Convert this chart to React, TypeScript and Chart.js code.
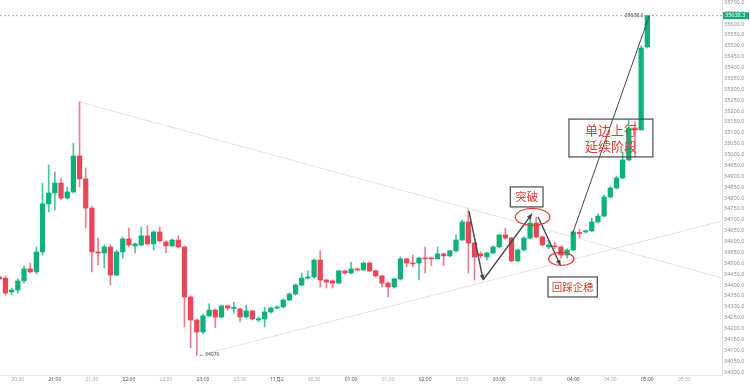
import { useEffect, useRef } from 'react';
import { Chart, registerables } from 'chart.js';

Chart.register(...registerables);

// 5-minute candles, index 0 = 20:20 (index -1 = 20:15, partly cut off at the left edge)
const firstIndex = -1;
const openPrices = [
  34437, 34432, 34368, 34377, 34419, 34474, 34460, 34552, 34773, 34823, 34869, 34800, 34828, 34993, 34888, 34754,
  34552, 34547, 34575, 34446, 34552, 34612, 34580, 34584, 34626, 34589, 34644, 34598, 34580, 34607, 34575, 34345,
  34239, 34184, 34258, 34285, 34253, 34304, 34292, 34290, 34253, 34281, 34239, 34244, 34276, 34294, 34299, 34331,
  34359, 34400, 34432, 34437, 34515, 34423, 34419, 34409, 34465, 34455, 34474, 34469, 34501, 34465, 34442, 34409,
  34391, 34428, 34520, 34501, 34501, 34524, 34524, 34520, 34543, 34534, 34557, 34607, 34690, 34593, 34543, 34529,
  34547, 34575, 34630, 34616, 34511, 34561, 34616, 34685, 34621, 34575, 34580, 34575, 34538, 34561, 34642, 34644,
  34649, 34690, 34717, 34805, 34846, 34892, 34975, 35122, 35113, 35495,
];
const highPrices = [
  34446, 34442, 34386, 34428, 34488, 34501, 34575, 34869, 34952, 34920, 34892, 34851, 35053, 35242, 34938, 34763,
  34616, 34584, 34584, 34561, 34621, 34662, 34593, 34667, 34672, 34649, 34667, 34603, 34612, 34626, 34580, 34350,
  34244, 34267, 34313, 34290, 34308, 34308, 34322, 34294, 34308, 34285, 34253, 34299, 34299, 34304, 34336, 34363,
  34405, 34455, 34465, 34520, 34557, 34428, 34423, 34469, 34469, 34506, 34478, 34506, 34506, 34469, 34446, 34414,
  34432, 34529, 34524, 34538, 34529, 34575, 34529, 34575, 34547, 34561, 34630, 34699, 34745, 34598, 34552, 34552,
  34580, 34635, 34662, 34621, 34566, 34621, 34722, 34713, 34626, 34607, 34598, 34580, 34566, 34649, 34658, 34653,
  34708, 34727, 34814, 34855, 34901, 35012, 35159, 35150, 35499, 35638.3,
];
const lowPrices = [
  34419, 34354, 34354, 34363, 34409, 34455, 34451, 34538, 34736, 34745, 34791, 34796, 34823, 34851, 34662, 34460,
  34492, 34478, 34400, 34442, 34524, 34575, 34547, 34580, 34584, 34561, 34598, 34547, 34575, 34570, 34207, 34111,
  34076, 34175, 34253, 34203, 34248, 34285, 34271, 34230, 34248, 34239, 34230, 34207, 34271, 34290, 34294, 34327,
  34354, 34396, 34428, 34432, 34391, 34386, 34386, 34405, 34451, 34451, 34465, 34469, 34460, 34437, 34391, 34345,
  34386, 34423, 34483, 34483, 34423, 34455, 34488, 34520, 34488, 34529, 34552, 34603, 34455, 34423, 34524, 34515,
  34543, 34570, 34612, 34506, 34506, 34557, 34612, 34616, 34580, 34566, 34566, 34524, 34524, 34557, 34616, 34639,
  34644, 34685, 34713, 34800, 34842, 34888, 34970, 34989, 35113, 35490,
];
const closePrices = [
  34428, 34363, 34377, 34419, 34474, 34460, 34552, 34773, 34823, 34869, 34800, 34828, 34993, 34888, 34754, 34552,
  34547, 34575, 34446, 34552, 34612, 34584, 34589, 34626, 34589, 34644, 34603, 34580, 34607, 34575, 34345, 34239,
  34184, 34258, 34285, 34253, 34304, 34294, 34297, 34253, 34281, 34244, 34245, 34276, 34294, 34299, 34331, 34359,
  34400, 34432, 34437, 34515, 34423, 34414, 34409, 34465, 34455, 34474, 34469, 34501, 34465, 34442, 34409, 34391,
  34428, 34520, 34501, 34497, 34524, 34520, 34520, 34543, 34534, 34557, 34607, 34690, 34593, 34529, 34534, 34547,
  34575, 34630, 34616, 34511, 34561, 34616, 34685, 34621, 34584, 34584, 34575, 34538, 34561, 34644, 34637, 34649,
  34690, 34717, 34805, 34846, 34892, 34975, 35122, 35113, 35490, 35638.3,
];

const xTickIndex = [2, 8, 14, 20, 26, 32, 38, 44, 50, 56, 62, 68, 74, 80, 86, 92, 98, 104, 110];
const xTickLabels = [
  '20:30', '21:00', '21:30', '22:00', '22:30', '23:00', '23:30', '11月2', '00:30', '01:00',
  '01:30', '02:00', '02:30', '03:00', '03:30', '04:00', '04:30', '05:00', '05:30',
];
const yTickValues = [
  34000, 34050, 34100, 34150, 34200, 34250, 34300, 34350, 34400, 34450, 34500, 34550, 34600, 34650, 34700,
  34750, 34800, 34850, 34900, 34950, 35000, 35050, 35100, 35150, 35200, 35250, 35300, 35350, 35400, 35450,
  35500, 35550, 35600, 35650, 35700,
];
const lastPrice = 35638.3;
const lowestPrice = 34076;
const lowestIndex = 31;
const lastIndex = 104;

// annotations in data units: [candle index, price]
const trendLines = [
  { from: [12, 35241.6], to: [116.1, 34432.4] },
  { from: [31.3, 34076], to: [116.1, 34694.4] },
];
const arrowLines = [
  { from: [75.1, 34740], to: [77.4, 34423], head: true },
  { from: [77.4, 34423], to: [85.3, 34727], head: true },
  { from: [86.3, 34713], to: [89.9, 34492], head: true },
  { from: [91.8, 34630], to: [104.3, 35637], head: false },
];
const ellipses = [
  { x1: 82.6, x2: 88.2, p1: 34752, p2: 34674 },
  { x1: 88.0, x2: 92.1, p1: 34550, p2: 34490 },
];
const noteBoxes = [
  { x1: 81.8, x2: 87.1, p1: 34851, p2: 34759, lines: ['突破'], size: 11.5 },
  { x1: 87.9, x2: 95.9, p1: 34437, p2: 34345, lines: ['回踩企稳'], size: 10.5 },
  { x1: 91.3, x2: 104.9, p1: 35163, p2: 34989, lines: ['单边上行', '延续阶段'], size: 13 },
];

const GREEN = '#10b07a';
const RED = '#e8475a';
const NOTE_RED = '#e33b33';

export default function App() {
  const ref = useRef<HTMLCanvasElement | null>(null);

  useEffect(() => {
    document.body.style.margin = '0';
    const canvas = ref.current;
    if (!canvas) return;

    const idx = openPrices.map((_, i) => firstIndex + i);
    const colors = openPrices.map((o, i) => (closePrices[i] >= o ? GREEN : RED));
    const wickColors = openPrices.map((o, i) => (closePrices[i] >= o ? 'rgba(16,176,122,0.75)' : 'rgba(232,71,90,0.7)'));

    const px = (chart: any, x: number) => chart.scales.x.getPixelForValue(x);
    const py = (chart: any, y: number) => chart.scales.y.getPixelForValue(y);

    const underlay = {
      id: 'underlay',
      beforeDatasetsDraw(chart: any) {
        const { ctx, chartArea } = chart;
        ctx.save();
        ctx.beginPath();
        ctx.rect(chartArea.left, chartArea.top, chartArea.right - chartArea.left, chartArea.bottom - chartArea.top);
        ctx.clip();
        ctx.strokeStyle = 'rgba(222,196,200,0.8)';
        ctx.lineWidth = 0.7;
        trendLines.forEach((l) => {
          ctx.beginPath();
          ctx.moveTo(px(chart, l.from[0]), py(chart, l.from[1]));
          ctx.lineTo(px(chart, l.to[0]), py(chart, l.to[1]));
          ctx.stroke();
        });
        const yl = py(chart, lastPrice);
        ctx.strokeStyle = 'rgba(38,166,140,0.8)';
        ctx.setLineDash([2, 2]);
        ctx.lineWidth = 0.8;
        ctx.beginPath();
        ctx.moveTo(chartArea.left, yl);
        ctx.lineTo(chartArea.right, yl);
        ctx.stroke();
        ctx.restore();
      },
    };

    const overlay = {
      id: 'overlay',
      afterDatasetsDraw(chart: any) {
        const { ctx } = chart;
        ctx.save();
        ctx.strokeStyle = '#474747';
        ctx.fillStyle = '#474747';
        arrowLines.forEach((a) => {
          const x1 = px(chart, a.from[0]);
          const y1 = py(chart, a.from[1]);
          const x2 = px(chart, a.to[0]);
          const y2 = py(chart, a.to[1]);
          ctx.lineWidth = a.head ? 1.4 : 1;
          ctx.beginPath();
          ctx.moveTo(x1, y1);
          ctx.lineTo(x2, y2);
          ctx.stroke();
          if (a.head) {
            const ang = Math.atan2(y2 - y1, x2 - x1);
            const L = 5;
            const W = 2.5;
            ctx.beginPath();
            ctx.moveTo(x2, y2);
            ctx.lineTo(x2 - L * Math.cos(ang) + W * Math.sin(ang), y2 - L * Math.sin(ang) - W * Math.cos(ang));
            ctx.lineTo(x2 - L * Math.cos(ang) - W * Math.sin(ang), y2 - L * Math.sin(ang) + W * Math.cos(ang));
            ctx.closePath();
            ctx.fill();
          }
        });
        ctx.strokeStyle = NOTE_RED;
        ctx.lineWidth = 1.2;
        ellipses.forEach((e) => {
          const x1 = px(chart, e.x1);
          const x2 = px(chart, e.x2);
          const y1 = py(chart, e.p1);
          const y2 = py(chart, e.p2);
          ctx.beginPath();
          ctx.ellipse((x1 + x2) / 2, (y1 + y2) / 2, Math.abs(x2 - x1) / 2, Math.abs(y2 - y1) / 2, 0, 0, Math.PI * 2);
          ctx.stroke();
        });
        noteBoxes.forEach((b) => {
          const x1 = px(chart, b.x1);
          const x2 = px(chart, b.x2);
          const y1 = py(chart, b.p1);
          const y2 = py(chart, b.p2);
          ctx.strokeStyle = '#4a4a4a';
          ctx.lineWidth = 1.2;
          ctx.strokeRect(x1, y1, x2 - x1, y2 - y1);
          ctx.fillStyle = NOTE_RED;
          ctx.font = `${b.size}px 'Noto Sans CJK SC', sans-serif`;
          ctx.textAlign = 'center';
          ctx.textBaseline = 'middle';
          const lh = b.size * 1.25;
          const cy = (y1 + y2) / 2;
          b.lines.forEach((t, i) => {
            ctx.fillText(t, (x1 + x2) / 2, cy + (i - (b.lines.length - 1) / 2) * lh);
          });
        });
        ctx.fillStyle = '#444';
        ctx.font = "5px 'Noto Sans', sans-serif";
        ctx.textBaseline = 'middle';
        ctx.textAlign = 'right';
        ctx.fillText(lastPrice.toFixed(1), px(chart, lastIndex) - 4, py(chart, lastPrice));
        ctx.textAlign = 'left';
        ctx.fillText('← ' + lowestPrice, px(chart, lowestIndex) + 2, py(chart, lowestPrice) - 1);
        ctx.restore();
      },
      afterDraw(chart: any) {
        const { ctx, chartArea } = chart;
        ctx.save();
        const yl = py(chart, lastPrice);
        ctx.fillStyle = '#14a87a';
        ctx.fillRect(chartArea.right + 1, yl - 3.5, 26, 7);
        ctx.fillStyle = '#ffffff';
        ctx.font = "5.5px 'Noto Sans', sans-serif";
        ctx.textAlign = 'left';
        ctx.textBaseline = 'middle';
        ctx.fillText(lastPrice.toFixed(1), chartArea.right + 3, yl);
        ctx.restore();
      },
    };

    const chart = new Chart(canvas, {
      type: 'bar',
      data: {
        datasets: [
          {
            label: 'body',
            data: idx.map((x, i) => ({ x, y: [openPrices[i], closePrices[i]] })) as any,
            backgroundColor: colors,
            barThickness: 4.6,
            grouped: false,
            minBarLength: 1,
            order: 1,
          } as any,
          {
            label: 'wick',
            data: idx.map((x, i) => ({ x, y: [lowPrices[i], highPrices[i]] })) as any,
            backgroundColor: wickColors,
            barThickness: 1,
            grouped: false,
            order: 2,
          } as any,
        ],
      },
      options: {
        animation: false,
        responsive: true,
        maintainAspectRatio: false,
        events: [],
        layout: { padding: 0 },
        plugins: { legend: { display: false }, tooltip: { enabled: false } },
        scales: {
          x: {
            type: 'linear',
            offset: false,
            min: -0.89,
            max: 116.1,
            grid: { display: false, drawTicks: false, offset: false },
            border: { display: true, color: '#e4e4e4' },
            afterBuildTicks: (s: any) => {
              s.ticks = xTickIndex.map((v) => ({ value: v }));
            },
            afterFit: (s: any) => {
              s.height = 10;
              s.paddingLeft = 0;
              s.paddingRight = 0;
            },
            ticks: {
              autoSkip: false,
              maxRotation: 0,
              padding: 2,
              font: { size: 5, family: "'Noto Sans', 'Noto Sans CJK SC', sans-serif" },
              color: (c: any) => {
                const t = xTickLabels[c.index] || '';
                return t.endsWith(':00') || t.includes('月') ? '#555' : '#aaa';
              },
              callback: (v: any) => xTickLabels[xTickIndex.indexOf(Number(v))] ?? '',
            },
          },
          y: {
            position: 'right',
            min: 33986.2,
            max: 35710.6,
            grid: { display: false, drawTicks: false },
            border: { display: true, color: '#e4e4e4' },
            afterBuildTicks: (s: any) => {
              s.ticks = yTickValues.map((v) => ({ value: v }));
            },
            afterFit: (s: any) => {
              s.width = 28;
              s.paddingTop = 0;
              s.paddingBottom = 0;
            },
            ticks: {
              padding: 2,
              autoSkip: false,
              font: { size: 5.5, family: "'Noto Sans', sans-serif" },
              color: '#8c8c8c',
              callback: (v: any) => Number(v).toFixed(1),
            },
          },
        },
      } as any,
      plugins: [underlay, overlay],
    });

    return () => chart.destroy();
  }, []);

  return (
    <div style={{ position: 'relative', width: 750, height: 385, background: '#fff' }}>
      <canvas ref={ref} />
    </div>
  );
}
